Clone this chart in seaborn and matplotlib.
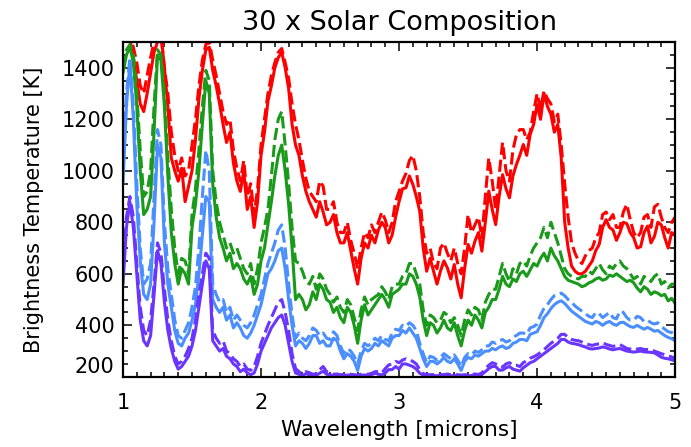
import numpy as np
import pandas as pd
import matplotlib
matplotlib.use("Agg")
import matplotlib.pyplot as plt
from matplotlib.ticker import MultipleLocator
import seaborn as sns

# Wavelength grid (microns), 0.025 micron spacing
wavelength = np.linspace(1.0, 5.0, 161)

# Brightness temperatures (K); a solid and a dashed spectrum per model
red_solid = [
    1520, 1530, 1510, 1440, 1350, 1260, 1230, 1300, 1380, 1460, 1500, 1530, 1400, 1250, 1050, 1000, 960, 1010, 880, 940,
    1000, 1120, 1280, 1390, 1470, 1480, 1390, 1330, 1260, 1180, 1110, 1150, 1030, 960, 920, 1000, 850, 900, 780, 880,
    1060, 1150, 1270, 1330, 1400, 1440, 1460, 1400, 1320, 1180, 1100, 1060, 980, 920, 880, 850, 820, 880, 840, 790,
    800, 830, 760, 720, 720, 760, 690, 620, 560, 660, 720, 700, 750, 720, 770, 800, 780, 720, 750, 820,
    880, 930, 934, 980, 947, 900, 843, 700, 610, 660, 610, 560, 610, 650, 623, 580, 636, 560, 507, 620,
    714, 680, 727, 760, 688, 800, 921, 850, 791, 900, 985, 930, 895, 980, 1024, 1060, 1102, 1060, 1141, 1180,
    1257, 1200, 1300, 1250, 1220, 1150, 1180, 1050, 800, 700, 630, 610, 600, 600, 610, 630, 650, 690, 714, 780,
    810, 780, 770, 730, 760, 800, 795, 760, 740, 700, 705, 760, 785, 720, 745, 800, 790, 740, 700, 760,
    750]
red_dashed = [
    1520, 1530, 1520, 1480, 1420, 1330, 1300, 1370, 1440, 1500, 1510, 1530, 1400, 1300, 1150, 1060, 1000, 1050, 980, 1000,
    1100, 1200, 1330, 1430, 1490, 1500, 1430, 1370, 1300, 1230, 1180, 1200, 1080, 1010, 960, 1040, 900, 950, 830, 930,
    1100, 1200, 1300, 1370, 1420, 1460, 1475, 1420, 1360, 1260, 1180, 1120, 1040, 970, 920, 900, 880, 960, 940, 850,
    850, 880, 800, 760, 760, 800, 730, 680, 620, 700, 760, 740, 790, 760, 800, 840, 810, 760, 800, 880,
    920, 960, 990, 1040, 1060, 1000, 900, 760, 680, 700, 640, 620, 700, 720, 680, 650, 700, 640, 600, 700,
    830, 760, 790, 820, 740, 900, 1050, 960, 850, 980, 1110, 1000, 960, 1080, 1140, 1160, 1160, 1120, 1150, 1230,
    1300, 1240, 1310, 1280, 1260, 1190, 1220, 1100, 950, 820, 720, 680, 650, 640, 670, 690, 700, 740, 760, 830,
    840, 810, 830, 780, 780, 840, 870, 810, 760, 740, 760, 820, 830, 780, 860, 870, 820, 780, 760, 800,
    820]
green_solid = [
    1380, 1450, 1480, 1420, 1250, 1000, 830, 850, 900, 1150, 1450, 1430, 1250, 980, 760, 640, 560, 620, 600, 560,
    780, 870, 1000, 1180, 1350, 1300, 950, 820, 740, 700, 650, 680, 620, 640, 620, 580, 560, 590, 520, 560,
    650, 700, 790, 880, 980, 1060, 1100, 1000, 870, 700, 500, 520, 500, 460, 480, 530, 500, 560, 540, 500,
    490, 450, 470, 430, 410, 470, 450, 400, 330, 420, 480, 440, 460, 480, 500, 520, 500, 470, 520, 530,
    540, 560, 560, 600, 590, 560, 510, 420, 360, 410, 400, 370, 390, 420, 390, 380, 410, 360, 320, 380,
    420, 400, 440, 420, 390, 450, 470, 500, 500, 540, 590, 560, 550, 580, 570, 600, 610, 590, 615, 640,
    630, 660, 680, 650, 700, 670, 650, 620, 590, 575, 570, 565, 560, 550, 555, 565, 570, 580, 585, 575,
    580, 595, 590, 600, 590, 580, 570, 575, 565, 545, 530, 550, 540, 520, 530, 525, 515, 520, 495, 505,
    485]
green_dashed = [
    1400, 1470, 1490, 1450, 1300, 1080, 900, 920, 1000, 1250, 1470, 1450, 1300, 1050, 850, 700, 600, 660, 650, 600,
    830, 930, 1080, 1250, 1390, 1350, 1000, 880, 800, 750, 700, 720, 680, 700, 660, 620, 600, 640, 560, 620,
    720, 780, 850, 980, 1120, 1200, 1230, 1100, 950, 780, 650, 640, 610, 570, 560, 590, 540, 600, 580, 540,
    520, 490, 510, 470, 450, 500, 480, 430, 380, 460, 510, 480, 500, 510, 520, 550, 530, 500, 550, 560,
    560, 590, 600, 640, 640, 600, 560, 460, 400, 440, 430, 410, 420, 450, 440, 410, 430, 400, 360, 420,
    460, 440, 470, 460, 420, 490, 520, 540, 540, 590, 640, 600, 570, 620, 600, 640, 650, 630, 670, 700,
    720, 740, 780, 740, 800, 760, 720, 670, 620, 600, 590, 585, 580, 590, 590, 610, 600, 620, 640, 615,
    600, 630, 620, 640, 650, 630, 620, 600, 580, 590, 560, 590, 580, 570, 590, 600, 560, 570, 545, 560,
    560]
blue_solid = [
    950, 1250, 1420, 1200, 870, 650, 520, 500, 560, 800, 1100, 1050, 720, 560, 470, 380, 330, 320, 350, 370,
    420, 480, 600, 750, 900, 880, 500, 470, 450, 470, 420, 440, 390, 410, 390, 360, 350, 370, 400, 440,
    480, 540, 600, 620, 650, 690, 700, 620, 500, 400, 320, 340, 330, 310, 330, 360, 360, 330, 340, 320,
    320, 350, 340, 300, 270, 290, 280, 260, 225, 280, 310, 300, 310, 330, 320, 340, 330, 320, 350, 360,
    360, 380, 370, 390, 370, 350, 310, 270, 240, 260, 260, 250, 260, 275, 260, 255, 270, 250, 225, 260,
    275, 270, 285, 280, 290, 300, 300, 310, 305, 315, 320, 310, 315, 330, 335, 345, 345, 340, 365, 370,
    375, 400, 430, 445, 465, 480, 490, 495, 485, 470, 455, 445, 435, 425, 415, 410, 405, 415, 410, 400,
    410, 415, 405, 400, 410, 412, 403, 395, 392, 400, 392, 385, 392, 385, 377, 380, 370, 360, 353, 348,
    340]
blue_dashed = [
    1050, 1300, 1440, 1250, 950, 700, 560, 580, 640, 900, 1160, 1100, 800, 620, 520, 420, 360, 350, 380, 410,
    470, 550, 700, 900, 1080, 1000, 560, 520, 490, 500, 450, 470, 420, 440, 420, 400, 390, 410, 440, 480,
    520, 580, 640, 680, 720, 770, 790, 700, 560, 440, 350, 370, 350, 340, 360, 390, 380, 360, 370, 350,
    345, 375, 360, 320, 290, 310, 300, 280, 250, 300, 330, 320, 330, 350, 340, 360, 345, 340, 370, 385,
    380, 400, 395, 410, 400, 380, 330, 290, 255, 280, 275, 265, 275, 290, 280, 270, 285, 265, 240, 275,
    290, 285, 300, 295, 305, 320, 320, 335, 330, 340, 345, 335, 340, 355, 360, 370, 370, 365, 390, 395,
    405, 440, 465, 480, 500, 515, 520, 525, 515, 500, 490, 475, 465, 455, 445, 435, 430, 450, 445, 430,
    440, 450, 430, 425, 455, 450, 430, 420, 420, 435, 430, 415, 420, 410, 405, 410, 395, 385, 375, 372,
    365]
purple_solid = [
    560, 780, 880, 780, 600, 420, 340, 320, 360, 520, 690, 640, 490, 380, 310, 260, 230, 240, 260, 280,
    320, 380, 470, 560, 650, 620, 340, 320, 300, 310, 280, 270, 250, 240, 220, 230, 215, 208, 215, 250,
    300, 330, 360, 390, 410, 430, 440, 400, 330, 260, 215, 210, 205, 212, 208, 205, 206, 214, 222, 210,
    208, 205, 207, 204, 205, 207, 206, 204, 203, 206, 207, 205, 208, 214, 210, 207, 215, 228, 228, 240,
    230, 250, 250, 245, 240, 230, 214, 207, 205, 204, 205, 204, 205, 204, 206, 204, 205, 204, 203, 204,
    204, 205, 207, 205, 210, 220, 232, 240, 240, 226, 226, 235, 240, 230, 226, 222, 235, 245, 255, 260,
    270, 280, 290, 300, 310, 320, 330, 345, 345, 335, 330, 328, 325, 320, 316, 310, 308, 310, 312, 316,
    313, 308, 305, 308, 310, 305, 300, 298, 296, 298, 300, 297, 296, 295, 293, 285, 276, 272, 270, 266,
    262]
purple_dashed = [
    600, 820, 900, 820, 640, 470, 380, 360, 420, 560, 720, 680, 540, 420, 340, 280, 250, 260, 280, 310,
    350, 420, 520, 600, 680, 660, 380, 350, 330, 340, 300, 290, 270, 260, 240, 250, 230, 225, 240, 280,
    330, 365, 400, 430, 460, 490, 500, 450, 380, 290, 232, 220, 212, 220, 216, 210, 212, 228, 240, 220,
    215, 210, 211, 208, 209, 211, 210, 208, 207, 210, 212, 210, 213, 220, 220, 215, 232, 246, 250, 260,
    255, 265, 270, 265, 260, 250, 228, 212, 209, 208, 209, 208, 209, 208, 211, 208, 209, 208, 207, 208,
    208, 209, 211, 209, 215, 232, 245, 255, 250, 240, 238, 250, 255, 245, 245, 240, 255, 262, 272, 278,
    285, 295, 305, 318, 330, 340, 350, 365, 365, 352, 345, 342, 340, 335, 330, 325, 322, 326, 328, 332,
    326, 322, 318, 322, 325, 318, 310, 308, 305, 308, 310, 306, 306, 304, 300, 295, 290, 286, 282, 277,
    272]

series = [
    (red_solid, red_dashed, "#ff0000"),
    (green_solid, green_dashed, "#1a9a1a"),
    (blue_solid, blue_dashed, "#4a8eff"),
    (purple_solid, purple_dashed, "#6a35ff"),
]

sns.set_style("white")
plt.rcParams["font.family"] = ["DejaVu Sans"]
plt.rcParams.update({
    "text.color": "black",
    "axes.labelcolor": "black",
    "xtick.color": "black",
    "ytick.color": "black",
})

fig = plt.figure(figsize=(6.91, 4.47), dpi=100)
ax = fig.add_axes([0.178, 0.157, 0.799, 0.749])

lw = 2.2
for solid, dashed, color in series:
    sns.lineplot(x=wavelength, y=solid, ax=ax, color=color, lw=lw,
                 estimator=None, sort=False)
    sns.lineplot(x=wavelength, y=dashed, ax=ax, color=color, lw=lw,
                 estimator=None, sort=False, linestyle=(0, (4.0, 1.6)))

ax.set_xlim(1, 5)
ax.set_ylim(200, 1500)
ax.xaxis.set_major_locator(MultipleLocator(1))
ax.xaxis.set_minor_locator(MultipleLocator(0.1))
ax.yaxis.set_major_locator(MultipleLocator(200))
ax.yaxis.set_minor_locator(MultipleLocator(50))

ax.tick_params(which="both", direction="in", top=True, right=True,
               bottom=True, left=True, color="black", width=1.1)
ax.tick_params(which="major", length=6.5, labelsize=15, labelcolor="black")
ax.tick_params(which="minor", length=3.5)
ax.tick_params(axis="x", which="major", pad=12)
ax.tick_params(axis="y", which="major", pad=6)

for sp in ax.spines.values():
    sp.set_visible(True)
    sp.set_color("black")
    sp.set_linewidth(1.6)

ax.set_xlabel("Wavelength [microns]", fontsize=15.5, labelpad=5, color="black")
ax.set_ylabel("Brightness Temperature [K]", fontsize=15, labelpad=13, color="black")
ax.set_title("30 x Solar Composition", fontsize=19.5, pad=9, color="black")

fig.canvas.draw()
for lab in ax.get_yticklabels():
    if lab.get_text() == "200":
        lab.set_verticalalignment("bottom")

fig.savefig("out.png", dpi=100, facecolor="white")
